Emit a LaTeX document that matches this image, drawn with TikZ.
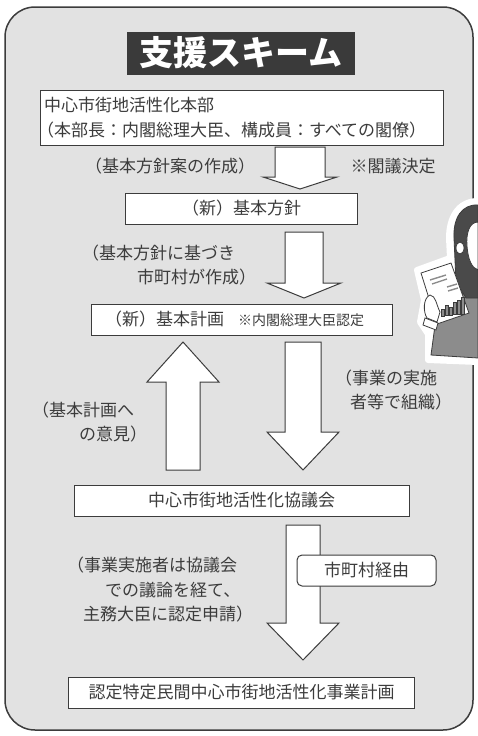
\documentclass[tikz,border=0pt]{standalone}
\usepackage{fontspec}
\setmainfont{Noto Sans CJK JP}
\usetikzlibrary{positioning}
\definecolor{panelgray}{HTML}{E2E2E2}
\definecolor{inkgray}{HTML}{3C3C3C}
\definecolor{titlegray}{HTML}{3A3A3A}
\definecolor{suitgray}{HTML}{8C8C8C}
\definecolor{hairgray}{HTML}{4A4A4A}
\tikzset{schemebox/.style={rectangle,draw=inkgray,fill=white,line width=1pt,
inner sep=4pt,minimum height=31pt,text=inkgray,font=\fontsize{17}{24.5}\selectfont}}
\tikzset{schemenote/.style={inner sep=0pt,text=inkgray,align=left,
font=\fontsize{17}{24.5}\selectfont}}
\tikzset{fatarrow/.style={draw=inkgray,fill=white,line width=1pt,line join=miter}}

\begin{document}
\begin{tikzpicture}[x=1pt,y=-1pt]
    \useasboundingbox (0,0) rectangle (478,736);

    % panel
    \draw[fill=panelgray,draw=inkgray,line width=1.5pt,rounded corners=30pt] (5,7) rectangle (473,730);

    \node[rectangle,fill=titlegray,text=white,minimum width=228pt,minimum height=43pt,
        inner sep=0pt,font=\fontsize{34}{34}\selectfont\bfseries] (title) at (241,53) {支援スキーム};

    \node[schemebox,minimum width=403pt,minimum height=55pt,text width=395pt,align=left] (hq) at (241.5,117.5)
        {中心市街地活性化本部\\\hspace*{-7pt}（本部長：内閣総理大臣、構成員：すべての閣僚）};
    \node[schemebox,minimum width=232pt] (policy) [below=47pt of hq] {（新）基本方針};
    \node[schemebox,minimum width=301pt] (plan) [below=79pt of policy]
        {（新）基本計画\hspace{14pt}{\fontsize{14}{14}\selectfont ※内閣総理大臣認定}\hspace*{14pt}};
    \node[schemebox,minimum width=335pt] (council) [below=149pt of plan] {中心市街地活性化協議会};
    \node[schemebox,minimum width=346pt] (bizplan) [below=160pt of council] {認定特定民間中心市街地活性化事業計画};

    % arrows
    \coordinate (a1top) at (300,147);
    \coordinate (a1head) at (300,177);
    \coordinate (a1tip) at (300,189);
    \draw[fatarrow] ([xshift=-25pt]a1top) -- ([xshift=25pt]a1top) -- ([xshift=25pt]a1head) -- ([xshift=37pt]a1head)
        -- (a1tip) -- ([xshift=-37pt]a1head) -- ([xshift=-25pt]a1head) -- cycle;

    \coordinate (a2top) at (304,232);
    \coordinate (a2head) at (304,283);
    \coordinate (a2tip) at (304,298);
    \draw[fatarrow] ([xshift=-19pt]a2top) -- ([xshift=19pt]a2top) -- ([xshift=19pt]a2head) -- ([xshift=37pt]a2head)
        -- (a2tip) -- ([xshift=-37pt]a2head) -- ([xshift=-19pt]a2head) -- cycle;

    \coordinate (upbot) at (183,470);
    \coordinate (uphead) at (183,382);
    \coordinate (uptip) at (183,342);
    \draw[fatarrow] ([xshift=-17pt]upbot) -- ([xshift=17pt]upbot) -- ([xshift=17pt]uphead) -- ([xshift=36pt]uphead)
        -- (uptip) -- ([xshift=-36pt]uphead) -- ([xshift=-17pt]uphead) -- cycle;

    \coordinate (a3top) at (303,342);
    \coordinate (a3head) at (303,432);
    \coordinate (a3tip) at (303,470);
    \draw[fatarrow] ([xshift=-18pt]a3top) -- ([xshift=18pt]a3top) -- ([xshift=18pt]a3head) -- ([xshift=36pt]a3head)
        -- (a3tip) -- ([xshift=-36pt]a3head) -- ([xshift=-18pt]a3head) -- cycle;

    \coordinate (a4top) at (303,525);
    \coordinate (a4head) at (303,623);
    \coordinate (a4tip) at (303,660);
    \draw[fatarrow] ([xshift=-17pt]a4top) -- ([xshift=17pt]a4top) -- ([xshift=17pt]a4head) -- ([xshift=36pt]a4head)
        -- (a4tip) -- ([xshift=-36pt]a4head) -- ([xshift=-17pt]a4head) -- cycle;

    \node[schemebox,rounded corners=5pt,minimum width=139pt] (via) at (366.5,570.5) {市町村経由};

    % notes
    \node[schemenote] (draftnote) at (170,166) {（基本方針案の作成）};
    \node[schemenote] (cabinet) at (393,166) {※閣議決定};
    \node[schemenote,anchor=west] (munnote) at (82,265) {（基本方針に基づき\\\hspace*{55pt}市町村が作成）};
    \node[schemenote,anchor=west] (orgnote) at (335,390) {（事業の実施\\\hspace*{15pt}者等で組織）};
    \node[schemenote,anchor=west] (opinion) at (32,422) {（基本計画へ\\\hspace*{47pt}の意見）};
    \node[schemenote,anchor=west] (applynote) at (67,590)
        {（事業実施者は協議会\\\hspace*{38pt}での議論を経て、\\\hspace*{16pt}主務大臣に認定申請）};

    % figure holding a report
    \begin{scope}
        \clip (400,195) rectangle (478,365);
        \fill[white,draw=white,line width=6pt,line join=round]
            (478,201) .. controls (458,201) and (449,218) .. (449,238) -- (450,258) -- (417,270)
            -- (424,300) -- (420,322) -- (428,334) -- (428,360) -- (478,362) -- cycle;
        % suit
        \draw[fill=suitgray,draw=inkgray,line width=0.8pt]
            (436,318) -- (452,296) -- (478,290) -- (478,358) -- (431,355) -- cycle;
        % hair and face
        \draw[fill=hairgray,draw=inkgray,line width=0.8pt]
            (478,205) .. controls (462,204) and (453,218) .. (454,238) -- (456,282) -- (466,298) -- (478,298) -- cycle;
        \draw[fill=white,draw=inkgray,line width=0.8pt]
            (478,222) .. controls (469,222) and (466,234) .. (467,246) .. controls (468,260) and (472,268) .. (478,270) -- cycle;
        \draw[fill=white,draw=inkgray,line width=0.8pt] (460,248) ellipse (4pt and 6pt);
        % report
        \draw[fill=white,draw=inkgray,line width=0.8pt] (421,273) -- (451,263) -- (469,313) -- (437,324) -- cycle;
        \draw[suitgray,line width=1.4pt] (430,280) -- (446,275) (432,284) -- (447,279) (447,287) -- (457,284) (448,291) -- (458,288);
        \foreach \bx/\bh in {441/7,445/10,449/8,453/12,457/14,461/17}
            \draw[fill=suitgray,draw=inkgray,line width=0.5pt] (\bx,360-\bx/10) rectangle ++(3,-\bh);
        % hand
        \draw[fill=white,draw=inkgray,line width=0.8pt]
            (430,295) .. controls (423,298) and (423,312) .. (427,318) -- (437,322) -- (440,312) .. controls (436,304) and (436,296) .. (430,295);
        \draw[fill=white,draw=inkgray,line width=0.8pt] (425,318) -- (438,323) -- (436,330) -- (423,325) -- cycle;
    \end{scope}

\end{tikzpicture}
\end{document}
